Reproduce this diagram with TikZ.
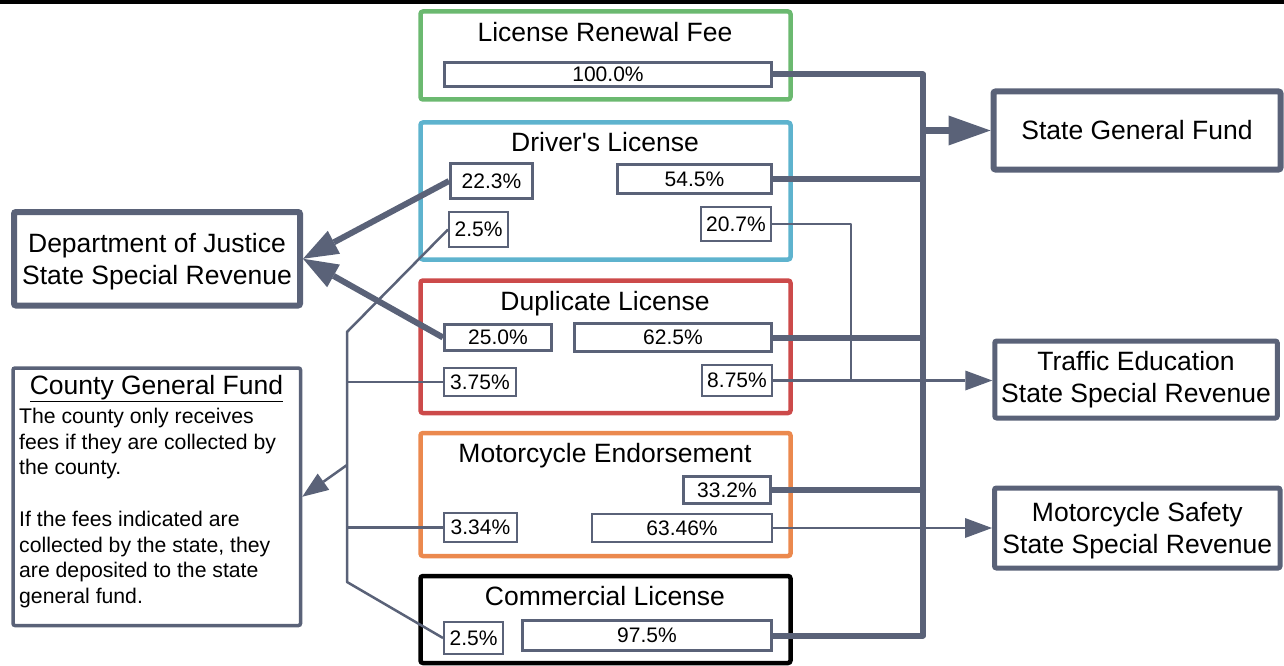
\documentclass[tikz,border=0pt]{standalone}
\usepackage{fontspec}
\setmainfont{Liberation Sans}
\usetikzlibrary{arrows.meta}
\definecolor{slate}{RGB}{90,98,120}
\definecolor{lgreen}{RGB}{107,185,112}
\definecolor{lblue}{RGB}{94,179,206}
\definecolor{lred}{RGB}{204,74,74}
\definecolor{lorange}{RGB}{235,137,78}
\newcommand{\hstrut}{\rule{0pt}{25pt}}
\begin{document}
\begin{tikzpicture}[x=1pt,y=-1pt,
  srcbox/.style={line width=4.5pt, rounded corners=2.5pt, minimum width=370pt, inner sep=0pt},
  ttl/.style={font=\fontsize{26.5}{32}\selectfont, anchor=base, inner sep=0pt},
  pbox/.style={draw=slate, line width=2pt, fill=white, font=\fontsize{21}{25}\selectfont, inner sep=0pt},
  pboxt/.style={pbox, line width=3pt},
  fund/.style={draw=slate, line width=6pt, rounded corners=2pt, fill=white, align=center, font=\fontsize{26.5}{32}\selectfont, inner sep=0pt},
  bus/.style={draw=slate, line width=6pt, line cap=round, line join=round},
  link/.style={draw=slate, line width=2.5pt, line join=round},
  bigtip/.style={-{Triangle[length=42pt,width=30pt,line width=0pt]}},
  midtip/.style={-{Triangle[length=35pt,width=26pt,line width=0pt]}},
  smalltip/.style={-{Triangle[length=27pt,width=20pt,line width=0pt]}}
]
\useasboundingbox (0,0) rectangle (1284,666);
\fill[black] (0,0) rectangle (1284,4);

% source frames
\node[srcbox, draw=lgreen, minimum height=88pt] (fren) at (605.5,55.5) {};
\node[srcbox, draw=lblue, minimum height=137pt] (fdrv) at (605.5,191) {};
\node[srcbox, draw=lred, minimum height=132.5pt] (fdup) at (605.5,346.75) {};
\node[srcbox, draw=lorange, minimum height=123pt] (fmot) at (605.5,494.5) {};
\node[srcbox, draw=black, minimum height=87pt] (fcom) at (605.5,619.5) {};

% titles
\node[ttl] (tren) at (605,41.5) {License Renewal Fee};
\node[ttl] (tdrv) at (605,151) {Driver\textquotesingle s License};
\node[ttl] (tdup) at (605,310) {Duplicate License};
\node[ttl] (tmot) at (605,462) {Motorcycle Endorsement};
\node[ttl] (tcom) at (605,605.5) {Commercial License};

% destination boxes
\node[fund, minimum width=287pt, minimum height=78pt] (sgf) at (1137,130.5) {State General Fund};
\node[fund, line width=5pt, minimum width=282.5pt, minimum height=77pt] (te) at (1136,379.5) {Traffic Education\\State Special Revenue};
\node[fund, line width=5pt, minimum width=285.5pt, minimum height=80pt] (ms) at (1137.25,528) {\hstrut Motorcycle Safety\\State Special Revenue};
\node[fund, minimum width=286pt, minimum height=93.5pt] (doj) at (157,258.75) {\hstrut Department of Justice\\State Special Revenue};
\node[fund, line width=3.5pt, minimum width=287.5pt, minimum height=257.5pt] (cgf) at (156.75,496.75) {};
\node[anchor=base, inner sep=0pt, font=\fontsize{26.5}{32}\selectfont] (cgft) at (156.5,394) {\underline{County General Fund}};
\node[anchor=north west, align=left, inner sep=0pt, font=\fontsize{21.2}{25.7}\selectfont] (cgfb) at (19,408) {The county only receives\\fees if they are collected by\\the county.\\[25.7pt]If the fees indicated are\\collected by the state, they\\are deposited to the state\\general fund.};

% connector helper points
\coordinate (bus) at (923,0);
\coordinate (tej) at (851,0);
\coordinate (trk) at (347,0);
\coordinate (trka) at (347,332);
\coordinate (trkb) at (347,582);
\coordinate (cgfa) at (347,465);

% percentage boxes
\node[pboxt, minimum width=327pt, minimum height=24pt] (p100) at (608,74.5) {100.0\%};
\node[pboxt, minimum width=82pt, minimum height=35pt] (p223) at (491.5,181) {22.3\%};
\node[pbox, minimum width=59pt, minimum height=35pt] (p25a) at (478.5,229.5) {2.5\%};
\node[pboxt, minimum width=154pt, minimum height=29pt] (p545) at (694.5,179) {54.5\%};
\node[pbox, minimum width=70pt, minimum height=34pt] (p207) at (736,224) {20.7\%};
\node[pboxt, minimum width=107pt, minimum height=26pt] (p250) at (498,337.5) {25.0\%};
\node[pboxt, minimum width=197pt, minimum height=28pt] (p625) at (673,337.5) {62.5\%};
\node[pbox, minimum width=72pt, minimum height=28pt] (p375) at (480,382) {3.75\%};
\node[pbox, minimum width=70pt, minimum height=31pt] (p875) at (737,380.5) {8.75\%};
\node[pboxt, minimum width=87pt, minimum height=27pt] (p332) at (727,490) {33.2\%};
\node[pbox, minimum width=73pt, minimum height=29pt] (p334) at (480.5,527.5) {3.34\%};
\node[pbox, minimum width=180pt, minimum height=28pt] (p6346) at (682,528) {63.46\%};
\node[pbox, minimum width=59pt, minimum height=32pt] (p25c) at (473.5,638) {2.5\%};
\node[pboxt, minimum width=249pt, minimum height=30pt] (p975) at (647,635.5) {97.5\%};

% state general fund bus
\draw[bus] (p100.east) -- (p100.east -| bus) |- (p975.east);
\draw[bus] (p545.east) -- (p545.east -| bus);
\draw[bus] (p625.east) -- (p625.east -| bus);
\draw[bus] (p332.east) -- (p332.east -| bus);
\draw[bus, bigtip] (sgf.west -| bus) -- (sgf.west);

% traffic education and motorcycle safety
\draw[link] (p207.east) -| (p875.east -| tej);
\draw[link, smalltip] (p875.east) -- (p875.east -| te.west);
\draw[link, smalltip] (p6346.east) -- (p6346.east -| ms.west);

% department of justice
\draw[bus, line cap=butt, midtip] (p223.west) -- (doj.east);
\draw[bus, line cap=butt, midtip] (p250.west) -- (doj.east);

% county general fund
\draw[link] (p25a.west) -- (trka) -- (trkb) -- (p25c.west);
\draw[link] (p375.west -| trk) -- (p375.west);
\draw[link] (p334.west -| trk) -- (p334.west);
\draw[link, -{Triangle[length=26pt,width=20pt,line width=0pt]}] (cgfa) -- (cgf.east);
\end{tikzpicture}
\end{document}
